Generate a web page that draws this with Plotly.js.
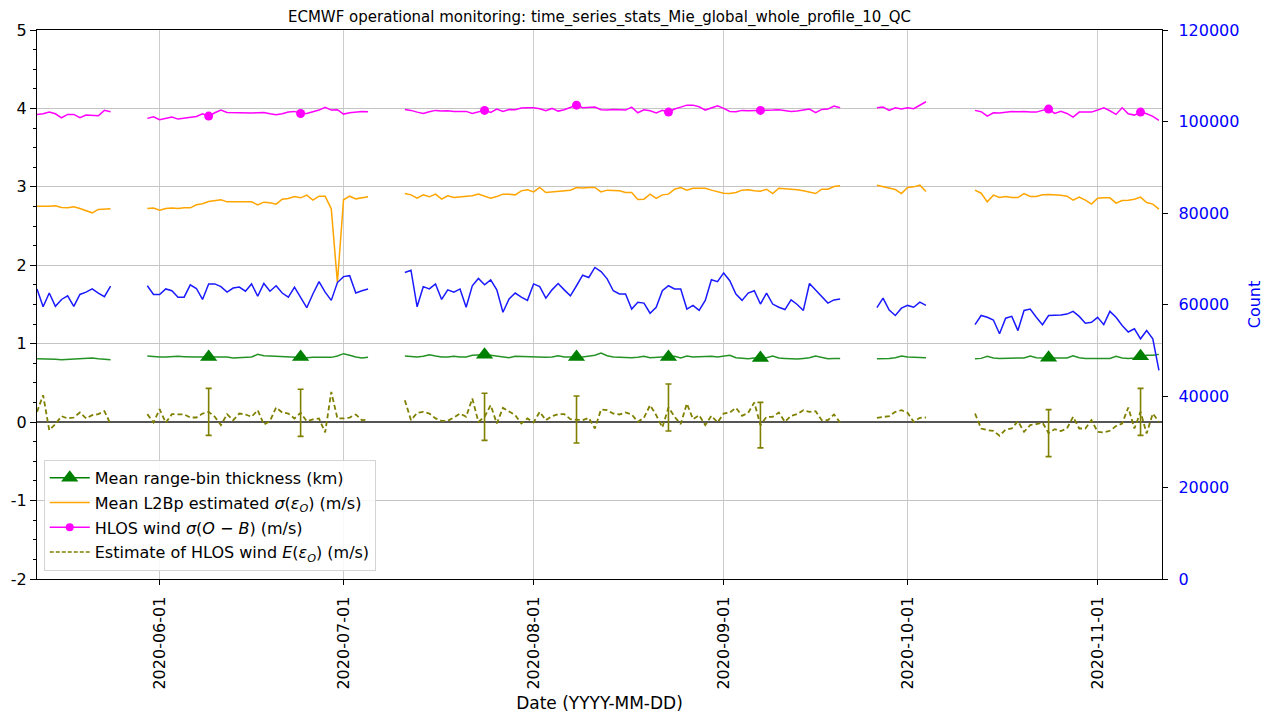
<!DOCTYPE html>
<html>
<head>
<meta charset="utf-8">
<script src="https://cdn.plot.ly/plotly-3.0.1.min.js"></script>
<style>
  html, body { margin: 0; padding: 0; background: #ffffff; }
  #chart { width: 1273px; height: 713px; }
</style>
</head>
<body>
<div id="chart"></div>
<script>
// Daily series starting at firstDay; null marks a day without data.
const firstDay = '2020-05-12';

// HLOS wind sigma(O-B) (m/s)
const sigmaOB = [
  3.924, 3.932, 3.953, 3.932, 3.881, 3.924, 3.924, 3.881, 3.915, 3.915, 3.907, 3.975, 3.958,
  null, null, null, null, null,
  3.873, 3.894, 3.856, 3.873, 3.890, 3.864, 3.873, 3.881, 3.898, 3.932, 3.902, 3.945, 3.979,
  3.949, 3.945, 3.945, 3.941, 3.941, 3.945, 3.949, 3.932, 3.919, 3.932, 3.953, 3.962, 3.936,
  3.936, 3.953, 3.979, 4.013, 3.979, 3.983, 3.928, 3.945, 3.958, 3.962, 3.958,
  null, null, null, null, null,
  3.987, 3.975, 3.953, 3.936, 3.958, 3.975, 3.966, 3.970, 3.962, 3.966,
  3.962, 3.936, 3.958, 3.975, 3.949, 3.992, 3.962, 3.987, 3.983, 4.004,
  4.008, 4.008, 3.996, 3.970, 4.000, 3.966, 3.983, 4.008, 4.042, 4.008,
  4.013, 4.017, 3.983, 3.979, 3.987, 3.979, 3.979, 4.017, 3.945, 3.983,
  3.970, 3.941, 3.975, 3.953, 3.992, 4.017, 4.042, 4.042, 4.021, 3.979,
  4.008, 4.034, 4.000, 3.962, 3.958, 3.975, 3.970, 3.970, 3.975, 3.970,
  3.979, 3.983, 3.975, 3.962, 3.966, 3.979, 3.992, 3.945, 3.987, 3.992,
  4.030, 4.008,
  null, null, null, null, null,
  4.008, 4.017, 3.975, 4.008, 3.992, 4.008, 3.996, 4.042, 4.085,
  null, null, null, null, null, null, null,
  3.975, 3.958, 3.902, 3.945, 3.941, 3.949, 3.962, 3.958, 3.962, 3.953,
  3.953, 3.975, 3.992, 3.936, 3.962, 3.936, 3.890, 3.953, 3.953, 3.953,
  3.979, 4.008, 3.970, 3.924, 4.008, 3.932, 3.915, 3.953, 3.932, 3.898,
  3.847
];

// Mean L2Bp estimated sigma(eps_O) (m/s)
const l2bpSigma = [
  2.754, 2.750, 2.754, 2.758, 2.737, 2.733, 2.746, 2.724, 2.699, 2.669, 2.712, 2.716, 2.720,
  null, null, null, null, null,
  2.724, 2.729, 2.703, 2.724, 2.729, 2.724, 2.733, 2.733, 2.771, 2.784, 2.813, 2.822, 2.835,
  2.809, 2.813, 2.809, 2.809, 2.809, 2.771, 2.805, 2.796, 2.780, 2.843, 2.852, 2.877, 2.860,
  2.894, 2.830, 2.881, 2.881, 2.720, 1.780, 2.835, 2.881, 2.847, 2.856, 2.873,
  null, null, null, null, null,
  2.915, 2.898, 2.856, 2.898, 2.873, 2.907, 2.843, 2.886, 2.864, 2.873,
  2.877, 2.886, 2.907, 2.877, 2.856, 2.877, 2.907, 2.907, 2.898, 2.949,
  2.962, 2.936, 2.992, 2.928, 2.936, 2.941, 2.949, 2.958, 2.992, 2.987,
  2.992, 2.992, 2.936, 2.958, 2.953, 2.949, 2.928, 2.928, 2.839, 2.843,
  2.907, 2.852, 2.898, 2.907, 2.970, 2.992, 2.958, 2.983, 2.983, 2.983,
  2.958, 2.936, 2.919, 2.915, 2.928, 2.958, 2.962, 2.949, 2.945, 2.970,
  2.915, 2.983, 2.979, 2.970, 2.962, 2.949, 2.928, 2.915, 2.970, 2.970,
  3.004, 3.013,
  null, null, null, null, null,
  3.021, 3.000, 2.983, 2.966, 2.915, 2.992, 3.000, 3.021, 2.941,
  null, null, null, null, null, null, null,
  2.958, 2.919, 2.809, 2.894, 2.864, 2.877, 2.864, 2.864, 2.915, 2.877,
  2.877, 2.898, 2.902, 2.902, 2.894, 2.881, 2.830, 2.869, 2.830, 2.780,
  2.856, 2.860, 2.860, 2.792, 2.826, 2.830, 2.843, 2.869, 2.801, 2.780,
  2.716
];

// Number of observations used (right axis)
const obsCount = [
  63400, 59500, 62500, 59600, 61100, 61900, 59600, 62200, 62700, 63400, 62500, 61700, 64000,
  null, null, null, null, null,
  64100, 62200, 62200, 63400, 63000, 61600, 61600, 64300, 63500, 61100, 64500, 64500, 63900,
  62700, 63600, 63800, 62900, 64500, 61800, 64600, 62900, 64100, 62500, 61600, 63800, 61700,
  59300, 62300, 65000, 62700, 60900, 64800, 66100, 66300, 62500, 63000, 63400,
  null, null, null, null, null,
  67000, 67500, 59500, 63900, 63400, 64500, 61100, 63200, 62700, 63400,
  59400, 64100, 65700, 64300, 65400, 63200, 58300, 61200, 62500, 61600,
  60900, 64500, 63900, 61400, 63200, 64600, 63200, 61900, 64100, 66400,
  65900, 68100, 67200, 65600, 63000, 62300, 62300, 59000, 60500, 60300,
  58100, 59400, 63000, 64100, 63400, 63400, 59000, 59800, 58700, 60900,
  65400, 65000, 66900, 65200, 62300, 60900, 62500, 63000, 60100, 62500,
  60100, 59400, 58900, 61000, 60000, 58700, 64600, 63200, 61700, 60300,
  61000, 61200,
  null, null, null, null, null,
  59300, 61400, 58800, 57600, 59200, 59800, 59400, 60500, 59800,
  null, null, null, null, null, null, null,
  55600, 57600, 57200, 56600, 53600, 57000, 57400, 54300, 58700, 59000,
  57200, 55600, 57600, 57600, 57700, 57900, 58500, 57400, 55900, 56100,
  57200, 55600, 58500, 57200, 55400, 54000, 54700, 52500, 54300, 52500,
  45600
];

// Mean range-bin thickness (km)
const binThickness = [
  0.809, 0.809, 0.805, 0.801, 0.797, 0.801, 0.805, 0.809, 0.813, 0.818, 0.809, 0.805, 0.797,
  null, null, null, null, null,
  0.843, 0.835, 0.830, 0.830, 0.835, 0.839, 0.835, 0.830, 0.830, 0.830, 0.830, 0.835, 0.839,
  0.830, 0.818, 0.822, 0.826, 0.830, 0.864, 0.847, 0.843, 0.839, 0.835, 0.830, 0.830, 0.830,
  0.822, 0.826, 0.826, 0.826, 0.826, 0.843, 0.873, 0.852, 0.830, 0.818, 0.826,
  null, null, null, null, null,
  0.843, 0.839, 0.830, 0.839, 0.860, 0.843, 0.830, 0.830, 0.839, 0.830,
  0.830, 0.852, 0.860, 0.860, 0.852, 0.839, 0.830, 0.822, 0.839, 0.835,
  0.839, 0.835, 0.830, 0.826, 0.830, 0.847, 0.830, 0.826, 0.830, 0.830,
  0.839, 0.852, 0.881, 0.847, 0.830, 0.826, 0.822, 0.822, 0.826, 0.839,
  0.822, 0.830, 0.830, 0.830, 0.839, 0.818, 0.843, 0.830, 0.835, 0.839,
  0.839, 0.830, 0.843, 0.852, 0.822, 0.813, 0.809, 0.818, 0.818, 0.822,
  0.843, 0.818, 0.813, 0.809, 0.805, 0.813, 0.822, 0.843, 0.822, 0.809,
  0.813, 0.813,
  null, null, null, null, null,
  0.809, 0.809, 0.813, 0.822, 0.843, 0.830, 0.826, 0.826, 0.822,
  null, null, null, null, null, null, null,
  0.809, 0.813, 0.839, 0.818, 0.813, 0.813, 0.813, 0.809, 0.818, 0.843,
  0.822, 0.818, 0.822, 0.818, 0.818, 0.818, 0.847, 0.822, 0.813, 0.813,
  0.813, 0.813, 0.813, 0.839, 0.818, 0.813, 0.818, 0.839, 0.852, 0.852,
  0.864
];

// Estimate of HLOS wind E(eps_O) (m/s)
const errEstimate = [
  0.131, 0.343, -0.102, -0.025, 0.076, 0.047, 0.059, 0.123, 0.047, 0.089, 0.102, 0.140, -0.025,
  null, null, null, null, null,
  0.102, -0.004, 0.165, -0.008, 0.102, 0.102, 0.098, 0.059, 0.059, 0.110, 0.131, 0.068, -0.038,
  0.102, 0.025, 0.110, 0.098, 0.068, 0.153, -0.030, 0.013, 0.187, 0.123, 0.110, 0.047, 0.119,
  0.013, 0.034, 0.047, -0.131, 0.386, 0.047, 0.047, 0.059, 0.098, 0.025, 0.034,
  null, null, null, null, null,
  0.280, 0.025, 0.119, 0.131, 0.110, 0.047, 0.017, 0.017, 0.059, 0.110,
  0.068, 0.301, 0.004, 0.068, 0.216, -0.017, 0.182, 0.131, 0.089, -0.017,
  0.047, -0.004, 0.131, 0.025, 0.076, 0.102, 0.102, 0.038, 0.034, 0.025,
  0.055, -0.081, 0.161, 0.153, 0.110, 0.098, 0.123, 0.098, 0.004, 0.055,
  0.216, 0.089, -0.068, 0.187, 0.068, -0.025, 0.237, 0.038, 0.089, -0.038,
  0.081, -0.004, 0.110, 0.123, 0.182, 0.081, 0.119, 0.250, -0.038, 0.068,
  0.068, 0.123, 0.004, 0.081, 0.102, 0.153, 0.131, 0.140, 0.025, 0.025,
  0.098, -0.004,
  null, null, null, null, null,
  0.055, 0.068, 0.076, 0.131, 0.153, 0.119, 0.004, 0.055, 0.059,
  null, null, null, null, null, null, null,
  0.110, -0.081, -0.102, -0.110, -0.174, -0.093, -0.081, 0.013, -0.123, -0.038,
  -0.025, -0.004, -0.140, -0.089, -0.114, -0.081, 0.068, -0.081, -0.081, 0.025,
  -0.123, -0.131, -0.110, -0.051, -0.017, 0.187, -0.081, 0.131, -0.144, 0.110,
  0.004
];

// Days carrying a symbol / error bar
const markerDays = ['2020-06-09', '2020-06-24', '2020-07-24', '2020-08-08',
                    '2020-08-23', '2020-09-07', '2020-10-24', '2020-11-08'];
// Spread of the E(eps_O) estimate on those days (m/s)
const errSpread = [0.30, 0.30, 0.30, 0.30, 0.30, 0.29, 0.30, 0.30];

// Axis ticks
const monthTicks = ['2020-06-01', '2020-07-01', '2020-08-01', '2020-09-01', '2020-10-01', '2020-11-01'];
const leftTicks = [-2, -1, 0, 1, 2, 3, 4, 5];

// ---------------------------------------------------------------------------
function dailyDates(start, n) {
  const out = [];
  const t0 = Date.parse(start + 'T00:00:00Z');
  for (let i = 0; i < n; i++) {
    out.push(new Date(t0 + i * 86400000).toISOString().slice(0, 10));
  }
  return out;
}
const days = dailyDates(firstDay, sigmaOB.length);
const onDays = (series) => markerDays.map(d => series[days.indexOf(d)]);

const FONT = 'DejaVu Sans, Liberation Sans, sans-serif';
const GREEN_LINE = '#259225';
const GREEN = '#008000';
const ORANGE = '#ffa500';
const MAGENTA = '#ff00ff';
const OLIVE = '#808000';
const BLUE = '#1a1aff';

const traces = [
  // series lines
  { x: days, y: binThickness, type: 'scatter', mode: 'lines', showlegend: false,
    line: { color: GREEN_LINE, width: 1.5 } },
  { x: days, y: l2bpSigma, type: 'scatter', mode: 'lines', showlegend: false,
    line: { color: ORANGE, width: 1.5 } },
  { x: days, y: sigmaOB, type: 'scatter', mode: 'lines', showlegend: false,
    line: { color: MAGENTA, width: 1.5 } },
  { x: days, y: errEstimate, type: 'scatter', mode: 'lines', showlegend: false,
    line: { color: OLIVE, width: 1.8, dash: '5px,3px' } },
  // symbols on selected days
  { x: markerDays, y: onDays(binThickness), type: 'scatter', mode: 'markers', showlegend: false,
    marker: { symbol: 'triangle-up', size: 15, color: GREEN } },
  { x: markerDays, y: onDays(sigmaOB), type: 'scatter', mode: 'markers', showlegend: false,
    marker: { symbol: 'circle', size: 9, color: MAGENTA } },
  { x: markerDays, y: onDays(errEstimate), type: 'scatter', mode: 'markers', showlegend: false,
    marker: { size: 1, color: 'rgba(0,0,0,0)' },
    error_y: { type: 'data', array: errSpread, visible: true, color: OLIVE, thickness: 1.6, width: 3 } },
  // observation count on the right axis
  { x: days, y: obsCount, type: 'scatter', mode: 'lines', yaxis: 'y2', showlegend: false,
    line: { color: BLUE, width: 1.5 } },
  // legend entries
  { x: [null], y: [null], type: 'scatter', mode: 'lines+markers', legendgroup: 'g1',
    name: 'Mean range-bin thickness (km)',
    line: { color: GREEN, width: 1.5 }, marker: { symbol: 'triangle-up', size: 15, color: GREEN } },
  { x: [null], y: [null], type: 'scatter', mode: 'lines', legendgroup: 'g2',
    name: 'Mean L2Bp estimated <i>σ</i>(<i>ε</i><sub><i>O</i></sub>) (m/s)',
    line: { color: ORANGE, width: 1.5 } },
  { x: [null], y: [null], type: 'scatter', mode: 'lines+markers', legendgroup: 'g3',
    name: 'HLOS wind <i>σ</i>(<i>O</i> − <i>B</i>) (m/s)',
    line: { color: MAGENTA, width: 1.5 }, marker: { symbol: 'circle', size: 8, color: MAGENTA } },
  { x: [null], y: [null], type: 'scatter', mode: 'lines', legendgroup: 'g4',
    name: 'Estimate of HLOS wind <i>E</i>(<i>ε</i><sub><i>O</i></sub>) (m/s)',
    line: { color: OLIVE, width: 1.5, dash: '4px,2px' } }
];

const layout = {
  width: 1273,
  height: 713,
  margin: { l: 37, r: 111, t: 30, b: 134 },
  paper_bgcolor: '#ffffff',
  plot_bgcolor: '#ffffff',
  font: { family: FONT, size: 16, color: '#000000' },
  showlegend: true,
  title: {
    text: 'ECMWF operational monitoring: time_series_stats_Mie_global_whole_profile_10_QC',
    font: { family: FONT, size: 15, color: '#000000' },
    x: 0.5, xref: 'paper', xanchor: 'center',
    y: 0.976, yref: 'container', yanchor: 'middle'
  },
  xaxis: {
    type: 'date',
    range: ['2020-05-12', '2020-11-11 12:00'],
    tickmode: 'array',
    tickvals: monthTicks,
    tickformat: '%Y-%m-%d',
    tickangle: -90,
    ticks: 'outside', ticklen: 5, tickcolor: '#000000',
    ticklabelstandoff: 5,
    showgrid: true, gridcolor: '#cccccc', gridwidth: 1,
    showline: true, linecolor: '#000000', linewidth: 1.2, mirror: true,
    zeroline: false,
    automargin: false,
    title: { text: 'Date (YYYY-MM-DD)', font: { size: 17 }, standoff: 12 }
  },
  yaxis: {
    range: [-2, 5],
    tickmode: 'array',
    tickvals: leftTicks,
    ticktext: leftTicks.map(v => String(v)),
    ticks: 'outside', ticklen: 6, tickcolor: '#000000',
    minor: { tickmode: 'linear', tick0: 0, dtick: 0.25, ticks: 'outside', ticklen: 3,
             tickcolor: '#000000', showgrid: false },
    showgrid: true, gridcolor: '#c4c4c4', gridwidth: 1,
    zeroline: true, zerolinecolor: '#555555', zerolinewidth: 1.5,
    showline: true, linecolor: '#000000', linewidth: 1.2,
    automargin: false
  },
  yaxis2: {
    overlaying: 'y',
    side: 'right',
    range: [0, 120000],
    tickmode: 'linear', tick0: 0, dtick: 20000,
    tickformat: 'd',
    tickfont: { color: '#0000ff', size: 16 },
    ticks: 'outside', ticklen: 5, tickcolor: '#000000',
    ticklabelstandoff: 7,
    showgrid: false, zeroline: false,
    showline: true, linecolor: '#000000', linewidth: 1.2,
    automargin: false,
    title: { text: 'Count', font: { color: '#0000ff', size: 16 }, standoff: 10 }
  },
  legend: {
    x: 0.006, y: 0.015, xanchor: 'left', yanchor: 'bottom',
    bgcolor: 'rgba(255,255,255,0.85)',
    bordercolor: '#d4d4d4', borderwidth: 1,
    font: { family: FONT, size: 16, color: '#000000' },
    itemwidth: 40,
    tracegroupgap: 1
  }
};

Plotly.newPlot('chart', traces, layout, { displayModeBar: false, staticPlot: true });
</script>
</body>
</html>
